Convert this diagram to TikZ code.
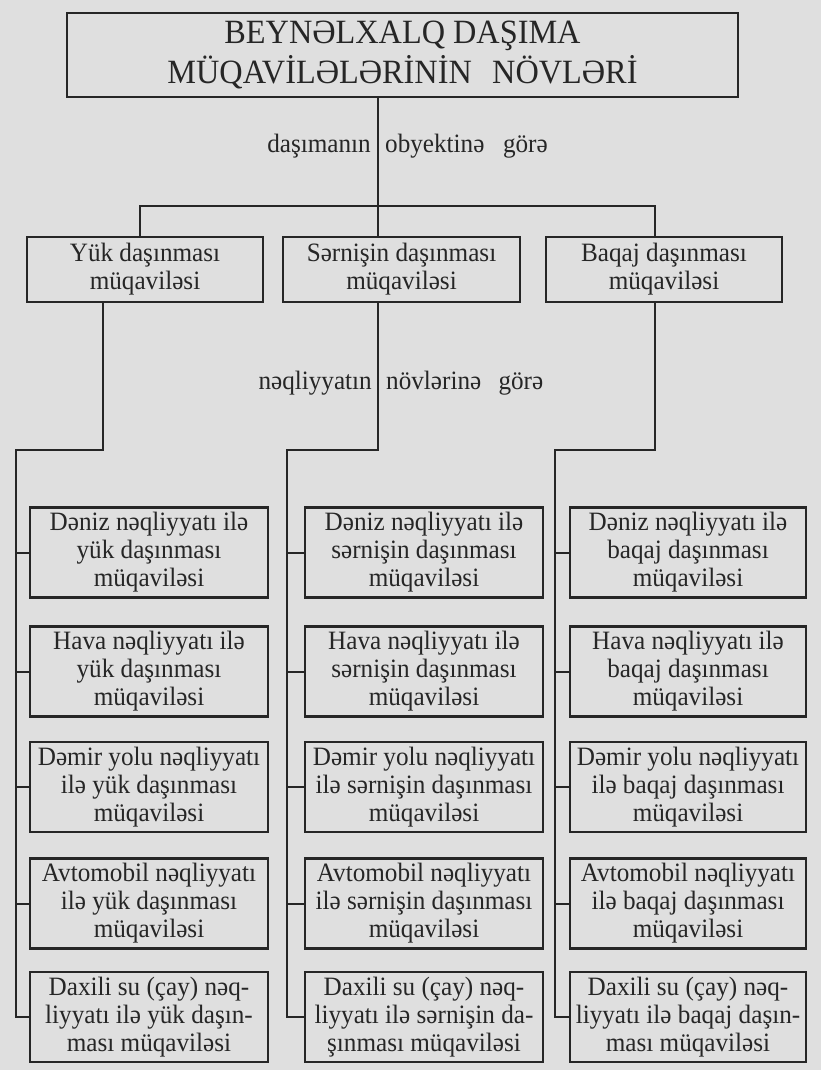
\documentclass[tikz,border=0pt]{standalone}
\usepackage{fontspec}
\setmainfont[FakeStretch=0.95]{Liberation Serif}
\definecolor{bgc}{HTML}{DFDFDF}
\definecolor{ink}{HTML}{262626}
\begin{document}
\begin{tikzpicture}[x=1pt,y=-1pt,
  box/.style={draw=ink,line width=2.6pt,align=center,inner sep=0pt,text=ink,
    font=\fontsize{26.5}{28}\selectfont},
  lvtwo/.style={box,minimum width=236pt,minimum height=65pt},
  lvthree/.style={box,minimum width=238pt,minimum height=90pt},
  conn/.style={draw=ink,line width=2pt},
  lbl/.style={text=ink,inner sep=0pt,font=\fontsize{26.5}{28}\selectfont}]
\fill[bgc] (0,0) rectangle (821,1070);
\useasboundingbox (0,0) rectangle (821,1070);

% title
\node[box,minimum width=671pt,minimum height=84pt,font=\fontsize{34}{40}\selectfont]
  (title) at (402.5,55) {BEYNƏLXALQ DAŞIMA\\MÜQAVİLƏLƏRİNİN\hspace{0.6em}NÖVLƏRİ};

% level 2
\node[lvtwo] (yuk)  at (145,269.5)  {Yük daşınması\\müqaviləsi};
\node[lvtwo,minimum width=237pt] (sern) at (401.5,269.5) {Sərnişin daşınması\\müqaviləsi};
\node[lvtwo] (baq)  at (664,269.5)  {Baqaj daşınması\\müqaviləsi};

% labels
\node[lbl,anchor=base east] (la1) at (371,152) {daşımanın};
\node[lbl,anchor=base west] (lb1) at (385,152) {obyektinə\hspace{0.7em}görə};
\node[lbl,anchor=base east] (la2) at (372,389) {nəqliyyatın};
\node[lbl,anchor=base west] (lb2) at (386,389) {növlərinə\hspace{0.65em}görə};

% level 3 - yük
\node[lvthree] (y1) at (149,552.5) {Dəniz nəqliyyatı ilə\\yük daşınması\\müqaviləsi};
\node[lvthree] (y2) at (149,671.5) {Hava nəqliyyatı ilə\\yük daşınması\\müqaviləsi};
\node[lvthree] (y3) at (149,787)   {Dəmir yolu nəqliyyatı\\ilə yük daşınması\\müqaviləsi};
\node[lvthree] (y4) at (149,903.5) {Avtomobil nəqliyyatı\\ilə yük daşınması\\müqaviləsi};
\node[lvthree] (y5) at (149,1017)  {Daxili su (çay) nəq-\\liyyatı ilə yük daşın-\\ması müqaviləsi};

% level 3 - sərnişin
\node[lvthree] (s1) at (424,552.5) {Dəniz nəqliyyatı ilə\\sərnişin daşınması\\müqaviləsi};
\node[lvthree] (s2) at (424,671.5) {Hava nəqliyyatı ilə\\sərnişin daşınması\\müqaviləsi};
\node[lvthree] (s3) at (424,787)   {Dəmir yolu nəqliyyatı\\ilə sərnişin daşınması\\müqaviləsi};
\node[lvthree] (s4) at (424,903.5) {Avtomobil nəqliyyatı\\ilə sərnişin daşınması\\müqaviləsi};
\node[lvthree] (s5) at (424,1017)  {Daxili su (çay) nəq-\\liyyatı ilə sərnişin da-\\şınması müqaviləsi};

% level 3 - baqaj
\node[lvthree,minimum width=236pt] (g1) at (688,552.5) {Dəniz nəqliyyatı ilə\\baqaj daşınması\\müqaviləsi};
\node[lvthree,minimum width=236pt] (g2) at (688,671.5) {Hava nəqliyyatı ilə\\baqaj daşınması\\müqaviləsi};
\node[lvthree,minimum width=236pt] (g3) at (688,787)   {Dəmir yolu nəqliyyatı\\ilə baqaj daşınması\\müqaviləsi};
\node[lvthree,minimum width=236pt] (g4) at (688,903.5) {Avtomobil nəqliyyatı\\ilə baqaj daşınması\\müqaviləsi};
\node[lvthree,minimum width=236pt] (g5) at (688,1017)  {Daxili su (çay) nəq-\\liyyatı ilə baqaj daşın-\\ması müqaviləsi};

% upper connectors
\coordinate (j1) at (378,206);
\coordinate (b1) at (140,206);
\coordinate (b3) at (655,206);
\draw[conn] (title.south -| j1) -- (j1 |- sern.north);
\draw[conn] (b1 |- yuk.north) -- (b1) -- (b3) -- (b3 |- baq.north);

% lower connectors
\coordinate (c1) at (103,450); \coordinate (v1) at (16,450);
\coordinate (c2) at (378,450); \coordinate (v2) at (287,450);
\coordinate (c3) at (655,450); \coordinate (v3) at (555,450);
\draw[conn] (c1 |- yuk.south) -- (c1) -- (v1) |- (y5.west);
\draw[conn] (c2 |- sern.south) -- (c2) -- (v2) |- (s5.west);
\draw[conn] (c3 |- baq.south) -- (c3) -- (v3) |- (g5.west);
\foreach \n in {1,...,4}{
  \draw[conn] (v1 |- y\n.west) -- (y\n.west);
  \draw[conn] (v2 |- s\n.west) -- (s\n.west);
  \draw[conn] (v3 |- g\n.west) -- (g\n.west);
}
\end{tikzpicture}
\end{document}
